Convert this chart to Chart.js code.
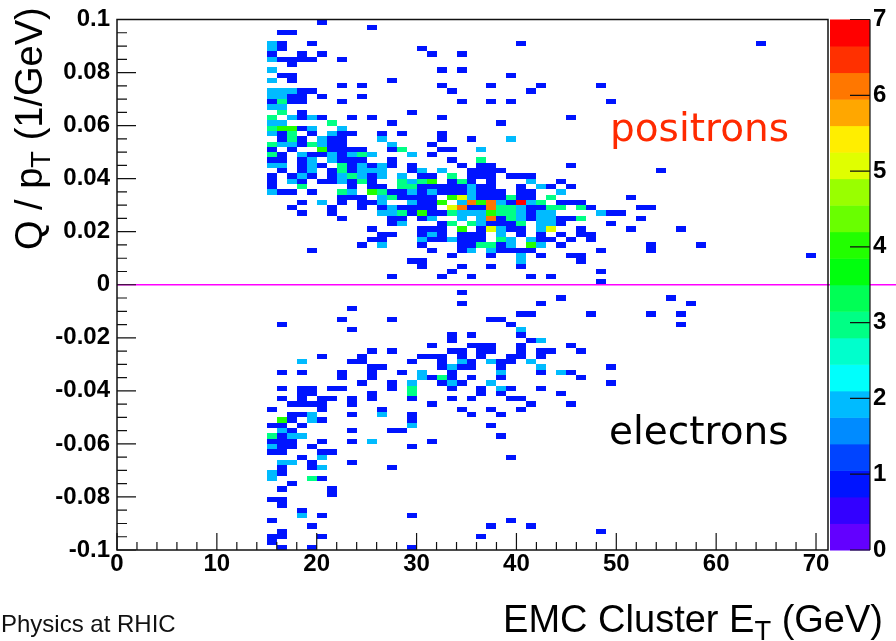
<!DOCTYPE html>
<html>
<head>
<meta charset="utf-8">
<script src="https://cdn.jsdelivr.net/npm/chart.js@4.4.1/dist/chart.umd.min.js"></script>
<style>
  html, body { margin: 0; padding: 0; background: #fff; }
  canvas { display: block; }
</style>
</head>
<body>
<canvas id="hist" width="896" height="641"></canvas>
<script>
// Q/pT versus EMC cluster ET, 1 GeV x 0.002 (1/GeV) bins
const etFirstBin = 15
const etBinWidth = 1
const qptTop = 0.1
const qptBinWidth = 0.002
const etTicks = [0, 10, 20, 30, 40, 50, 60, 70]
const qptTicks = [-0.1, -0.08, -0.06, -0.04, -0.02, 0, 0.02, 0.04, 0.06, 0.08, 0.1]
const zTicks = [0, 1, 2, 3, 4, 5, 6, 7]

// entries per bin: one string per Q/pT row from +0.1 down to -0.1,
// columns are ET bins starting at etFirstBin (groups of 5), '.' = empty
const countRows = [
  '..... 1....',
  '..... ..... 1....',
  '.11..',
  '',
  '21..1 ..... ..... ..... ..... 1.... ..... ..... ..... ....1',
  '21... ..... ..... 1....',
  '1..1. 1.... ..... .1..1',
  '21111 ..1..',
  '..1..',
  '2.... ..... ..... ..1.1',
  '.11.. ..... ..... ..... ....1',
  '2.1.. ..... ..1..',
  '..... ..1.1 ..... ..1.. ..1.. ..1.. ...1.',
  '22211 ..... ..... ...1. ..... .1...',
  '2211. 1...1',
  '1311. ..1.. ..... ....1 ..1.1 ..... ....1',
  '22...',
  '.3.1. ..... ....1',
  '3.212 1..1. 1.... ..1.. ..... ..... 1....',
  '22... .3... ..1.. ..... ...1.',
  '34412 ..2..',
  '213.1 .211. .1.1. ..1..',
  '.131. 211.. .2... ..1.. 1...2',
  '32213 211.. ..2.. .1...',
  '1.1.. 41111 ..13. ..11. .2...',
  '31.21 12123 2...2 .1...',
  '11.12 .2111 ..1.. ...1. .3...',
  '22.12 1.312 121.1 ....1 .11.. ..... 1....',
  '.1.12 .1312 22..1 2.2.. 1111. ..... ..... ....1',
  '1.121 .1232 12.2. 11.3. 111.1 11...',
  '1.21. 11213 1..32 34.13 1.1.. .2..1',
  '1..3. ...1. 11.33 11111 211.. 1.21. 1....',
  '211.1 ..32. 43112 12111 2111. 11..2',
  '..... ..111 .2311 11.45 21113 11.3. ..... .1...',
  '...1. 2.1.1 12..2 114.2 64621 723.1 11...',
  '..1.. .1..1 .1211 11.56 11633 21133 .31.. ..11.',
  '...1. .1... .2231 41132 22433 2122. ...21 1....',
  '..... ..1.. ..11. 12..2 .2613 21221 13... ..1..',
  '..... ..... ..12. ..13. 32111 3.221 ....1',
  '..... ..... 1.... 111.4 .1521 1.25. .1... .1... .1...',
  '..... ..... .11.. 121.1 11.2. 1.1.1 .11..',
  '..... ..... 11... 21121 11.32 .211. 1.1..',
  '..... ....1 .2... 1...1 13312 .42.1 ..... ...1. ...1.',
  '....1 ..... ..... .1..1 2.211 11... ...1. ...1.',
  '..... ..... ..... ...1. ..1.. 2.1.. 11... ..... ..... ..... ....1',
  '..... ..... ....1 1.... ..... 2.... .1...',
  '..... ..... ..... 1...1 ..1.. 1....',
  '..... ..... ..... ...1. ..... ..... ...1.',
  '..... ..... ..1.. ..1.. 1.... .1.1.',
  '..... ..... ..... ..... ..... ..... ...1.',
  '',
  '..... ..... ..... ....1',
  '..... ..... ..... ..... ..... ....1 ..... ..... 1....',
  '..... ..... ..... ....1 ..... ..1.. ..... ..... ..1..',
  '..... ...1.',
  '..... ..... ..... ..... ..... 11... ..1.. ...1. .1...',
  '..... ..1.. ..1.. ..... ..11.',
  '.1... ..... ..... ..... ....1 ..... ..... ..... .1...',
  '..... ...1. ..... ..... ..... 2....',
  '..... ..... ..... ...1. 1.... 1....',
  '..... ..... ..... ...1. ..... .12..',
  '..... ..... ..... .1... 111.. 1.... 1....',
  '..... ..... 1.1.. ...11 .11.. 1.11. .1...',
  '..... 1...1 ..... 111.1 .1..1 1.1..',
  '...2. ...11 ....1 ..1.2 1.211 .2...',
  '..... ..... 11... ..121 1..1. ..2.. ....1',
  '.1.1. ..1.. 1..1. 2..1. ...2. ..1.2 1....',
  '..... ..1.. 1.... 2131. 1..1. ..... .1...',
  '..... ....1 ..1.2 ..121 ..2.. ..... ....1',
  '.1.11 .11.. ..1.3 ...1. .1.21 ..1..',
  '...11 ..... 1...3 ..... .1.1. ....1',
  '.1.1. 11.1. 1...1 ...1. 1...1 1....',
  '..111 1..1. ..... .1... ..... .1... 1....',
  '1.... 1.... .1... ....1 ..1.. 1....',
  '..112 ...1. .2..1 ..... 1..1.',
  '.41.2 1.... ....1',
  '11.1. ..... ....2 ..... ..1..',
  '.21.. ...1. ..11.',
  '3122. ..... ..... ..... ...1.',
  '111.. 1..1. 2.... .1...',
  '211.1 ..... ....1',
  '11... 11...',
  '...1. 2.... ..... ..... ....1',
  '.22.1 ...1.',
  '.1..1 2.... ..1..',
  '21...',
  '2...3 1....',
  '..1..',
  '.1... .1...',
  '..... .1...',
  '11...',
  '.1...',
  '...1.',
  '...2. 1.... ....1',
  '1.... ..... ..... ..... ....1',
  '....1 ..... ..... ..... ..1.. .1...',
  '.1... ..... ..... ..... ..... ..... ...1.',
  '11... 1.... ..... ..... .1...',
  '1....',
  '.1..1 ..... ....1'
]

const cells = []
countRows.forEach((row, j) => {
  row.replace(/ /g, '').split('').forEach((ch, i) => {
    if (ch === '.') return
    cells.push({
      x: etFirstBin + (i + 0.5) * etBinWidth,
      y: qptTop - (j + 0.5) * qptBinWidth,
      v: Number(ch)
    })
  })
})

// colz palette: 20 contour levels over 0..7, rainbow hue from violet to red
const zMax = 7
const zLevels = 20
function levelColor(c) {
  const p = Math.floor((c + 0.99) * 50 / zLevels)
  const hue = Math.max(0, 280 - (p + 1) * 5.6)
  return `hsl(${hue},100%,50%)`
}
function countColor(v) {
  const c = Math.min(zLevels - 1, Math.floor(0.01 + v * zLevels / zMax))
  return levelColor(c)
}

const sans = '"Liberation Sans", Arial, Helvetica, sans-serif'
const labelFont = { family: sans, size: 24, weight: 'bold' }

// text with a subscript piece: parts = [[text, isSub], ...]
function drawParts(ctx, parts, x, y, size) {
  let cx = x
  parts.forEach(([t, sub]) => {
    const s = sub ? size * 0.72 : size
    ctx.font = `${s}px ${sans}`
    ctx.fillText(t, cx, sub ? y + size * 0.22 : y)
    cx += ctx.measureText(t).width
  })
  return cx - x
}
function partsWidth(ctx, parts, size) {
  let w = 0
  parts.forEach(([t, sub]) => {
    ctx.font = `${sub ? size * 0.72 : size}px ${sans}`
    w += ctx.measureText(t).width
  })
  return w
}

const histPlugin = {
  id: 'hist2d',
  beforeDatasetsDraw(chart) {
    const { ctx, chartArea: a, scales: { x, y } } = chart
    ctx.save()
    ctx.beginPath()
    ctx.rect(a.left, a.top, a.width, a.height)
    ctx.clip()
    chart.data.datasets[0].data.forEach(p => {
      const x0 = Math.round(x.getPixelForValue(p.x - etBinWidth / 2))
      const x1 = Math.round(x.getPixelForValue(p.x + etBinWidth / 2))
      const y0 = Math.round(y.getPixelForValue(p.y - qptBinWidth / 2))
      const y1 = Math.round(y.getPixelForValue(p.y + qptBinWidth / 2))
      ctx.fillStyle = countColor(p.v)
      ctx.fillRect(x0, y1, x1 - x0, y0 - y1)
    })
    ctx.restore()
  },
  afterDraw(chart) {
    const { ctx, chartArea: a, scales: { x, y, z } } = chart
    ctx.save()

    // Q/pT = 0 line, runs out to the right edge behind the palette
    const yz = y.getPixelForValue(0)
    ctx.strokeStyle = '#ff00ff'
    ctx.lineWidth = 1.5
    ctx.beginPath()
    ctx.moveTo(a.left, yz)
    ctx.lineTo(chart.width, yz)
    ctx.stroke()

    // frame and inward ticks
    ctx.strokeStyle = '#111'
    ctx.lineWidth = 1.5
    ctx.strokeRect(a.left, a.top, a.width, a.height)
    ctx.lineWidth = 1.2
    ctx.beginPath()
    for (let i = 0; i <= 35; i++) {
      const px = x.getPixelForValue(i * 2)
      const len = i % 5 === 0 ? 17 : 8
      ctx.moveTo(px, a.bottom)
      ctx.lineTo(px, a.bottom - len)
    }
    for (let i = 0; i <= 40; i++) {
      const py = y.getPixelForValue(-0.1 + i * 0.005)
      const len = i % 4 === 0 ? 19 : 10
      ctx.moveTo(a.left, py)
      ctx.lineTo(a.left + len, py)
    }
    ctx.stroke()

    // palette box
    const pl = z.left + 2
    const pw = 40
    for (let c = 0; c < zLevels; c++) {
      const top = z.getPixelForValue((c + 1) * zMax / zLevels)
      const bot = z.getPixelForValue(c * zMax / zLevels)
      ctx.fillStyle = levelColor(c)
      ctx.fillRect(pl, top, pw, bot - top + 0.5)
    }
    ctx.strokeStyle = '#111'
    ctx.lineWidth = 1.2
    ctx.beginPath()
    ctx.moveTo(pl + pw, z.top)
    ctx.lineTo(pl + pw, z.bottom)
    zTicks.forEach(v => {
      const py = z.getPixelForValue(v)
      ctx.moveTo(pl + pw - 20, py)
      ctx.lineTo(pl + pw, py)
    })
    ctx.stroke()

    // axis titles
    ctx.fillStyle = '#000'
    ctx.textBaseline = 'alphabetic'
    ctx.textAlign = 'left'
    const xTitle = [['EMC Cluster E', false], ['T', true], [' (GeV)', false]]
    drawParts(ctx, xTitle, 883 - partsWidth(ctx, xTitle, 38), 632, 38)

    ctx.save()
    ctx.translate(42, 250)
    ctx.rotate(-Math.PI / 2)
    drawParts(ctx, [['Q / p', false], ['T', true], [' (1/GeV)', false]], 0, 0, 38)
    ctx.restore()

    // labels inside the frame
    ctx.font = `39px "Comic Sans MS", "DejaVu Sans", sans-serif`
    ctx.fillStyle = '#ff2a00'
    ctx.fillText('positrons', 610, 141)
    ctx.fillStyle = '#000'
    ctx.fillText('electrons', 609, 444)

    ctx.font = `24px ${sans}`
    ctx.fillStyle = '#111'
    ctx.fillText('Physics at RHIC', 1, 632)
    ctx.restore()
  }
}

new Chart(document.getElementById('hist'), {
  type: 'scatter',
  data: {
    datasets: [{
      data: cells,
      pointRadius: 0,
      pointHoverRadius: 0
    }]
  },
  options: {
    responsive: false,
    animation: false,
    events: [],
    layout: { padding: { top: 19.5, right: 0, left: 0, bottom: 0 } },
    plugins: { legend: { display: false }, tooltip: { enabled: false } },
    scales: {
      x: {
        type: 'linear',
        position: 'bottom',
        min: 0,
        max: 71.2,
        afterBuildTicks: s => { s.ticks = etTicks.map(v => ({ value: v })) },
        afterFit: s => { s.height = 91 },
        ticks: { autoSkip: false, maxRotation: 0, padding: 0, color: '#000', font: labelFont },
        grid: { display: false, drawTicks: false },
        border: { display: false }
      },
      y: {
        type: 'linear',
        position: 'left',
        min: -0.1,
        max: 0.1,
        afterBuildTicks: s => { s.ticks = qptTicks.map(v => ({ value: v })) },
        afterFit: s => { s.width = 117; s.paddingTop = 10; s.paddingBottom = 10 },
        ticks: {
          autoSkip: false,
          padding: 7,
          color: '#000',
          font: labelFont,
          callback: v => String(Number(v.toFixed(3)))
        },
        grid: { display: false, drawTicks: false },
        border: { display: false }
      },
      z: {
        type: 'linear',
        position: 'right',
        min: 0,
        max: zMax,
        afterBuildTicks: s => { s.ticks = zTicks.map(v => ({ value: v })) },
        // labels sit right of the palette box; keep their padding out of the vertical layout
        afterFit: s => { s.width = 68; s.paddingTop = 10; s.paddingBottom = 10 },
        ticks: { autoSkip: false, padding: 45, color: '#000', font: labelFont },
        grid: { display: false, drawTicks: false },
        border: { display: false }
      }
    }
  },
  plugins: [histPlugin]
})
</script>
</body>
</html>
